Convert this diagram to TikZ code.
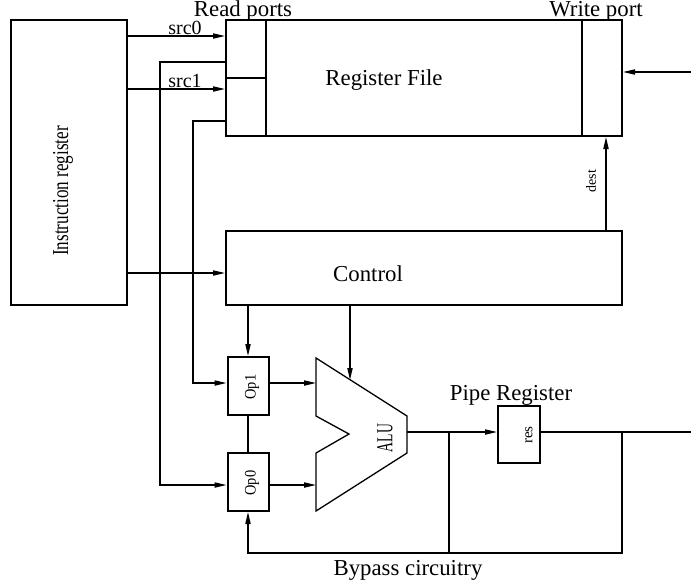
\documentclass[tikz,border=0pt]{standalone}
\usepackage{fontspec}
\setmainfont{Liberation Serif}
\newfontfamily\narrowfont[FakeStretch=0.75]{Liberation Serif}
\newfontfamily\opfont[FakeStretch=0.9]{Liberation Serif}
\newfontfamily\alufont[FakeStretch=0.6]{Liberation Serif}
\usetikzlibrary{arrows.meta}

\begin{document}
\begin{tikzpicture}[x=0.5pt, y=-0.5pt, line width=0.65pt,
  every node/.style={font=\fontsize{11.4}{13}\selectfont, inner sep=0pt},
  box/.style={draw, line width=1pt},
  arr/.style={-{Triangle[length=6pt,width=2.6pt]}},
  small/.style={font=\fontsize{10}{12}\selectfont}]
  \useasboundingbox (0,0) rectangle (691,586);
  \node[box, minimum width=58pt, minimum height=142.5pt] (ir) at (69,162.5) {};
  \node[box, minimum width=198pt, minimum height=58pt] (rf) at (424,78) {};
  \node[box, minimum width=198pt, minimum height=37pt] (ctl) at (424,268) {};
  \node[box, minimum width=20.5pt, minimum height=29pt] (op1) at (248,386) {};
  \node[box, minimum width=20.5pt, minimum height=29pt] (op0) at (248,482) {};
  \node[box, minimum width=21pt, minimum height=28.5pt] (res) at (519,434) {};
  \draw ([xshift=20.5pt]rf.north west) -- ([xshift=20.5pt]rf.south west);
  \draw ([xshift=-20.5pt]rf.north east) -- ([xshift=-20.5pt]rf.south east);
  \draw (rf.west) -- ([xshift=20.5pt]rf.west);
  \coordinate (a1) at (316,358);
  \coordinate (aluin) at (350,380);
  \coordinate (aluout) at (407,432);
  \coordinate (ja) at (449,432);
  \coordinate (jb) at (622,432);
  \coordinate (outend) at (691,432);
  \coordinate (bot) at (0,553);
  \coordinate (wp) at (691,72);
  \draw (a1) -- (407,416) -- (aluout) -- (407,453) -- (316,511) -- (316,453)
    -- (349,434) -- (316,416) -- cycle;
  \foreach \y/\lab in {36/src0,89/src1} {
    \draw[arr] (ir.east |- 0,\y) -- (rf.west |- 0,\y);
    \node[small] (l\lab) at (185,\y-8) {\lab};
  }
  \draw[arr] (rf.west |- 0,62) -| (160,485) -- (op0.west |- 0,485);
  \draw[arr] (rf.west |- 0,121) -| (193,383) -- (op1.west |- 0,383);
  \draw[arr] (ir.east |- 0,273) -- (ctl.west |- 0,273);
  \draw[arr] (ctl.south -| op1.north) -- (op1.north);
  \draw[arr] (ctl.south -| aluin) -- (aluin);
  \draw (op1.south) -- (op0.north);
  \draw[arr] (op1.east |- 0,383) -- (a1 |- 0,383);
  \draw[arr] (op0.east |- 0,485) -- (a1 |- 0,485);
  \draw[arr] (aluout) -- (res.west |- aluout);
  \draw (res.east |- aluout) -- (outend);
  \draw (ja) -- (ja |- bot);
  \draw[arr] (jb) -- (jb |- bot) -- (op0.south |- bot) -- (op0.south);
  \draw[arr] (wp) -- (rf.east |- wp);
  \draw[arr] (ctl.north -| 606,0) -- (rf.south -| 606,0);
  \node (lread) at (243,11) {Read ports};
  \node (lwrite) at (596,11) {Write port};
  \node (lrf) at (384,80) {Register File};
  \node (lctl) at (368,274) {Control};
  \node[rotate=90, font=\narrowfont\fontsize{11.4}{13}\selectfont] (lir) at (63,191) {Instruction register};
  \node[rotate=90, font=\opfont\fontsize{8}{10}\selectfont] (lop1) at (252,387) {Op1};
  \node[rotate=90, font=\opfont\fontsize{8}{10}\selectfont] (lop0) at (252,483) {Op0};
  \node[rotate=90, font=\alufont\fontsize{11.4}{13}\selectfont] (lalu) at (385,438) {ALU};
  \node[rotate=90, font=\fontsize{7.5}{9}\selectfont] (lres) at (529,435) {res};
  \node[rotate=90, font=\fontsize{7}{9}\selectfont] (ldest) at (591,181) {dest};
  \node (lpipe) at (511,395) {Pipe Register};
  \node (lbyp) at (408,570) {Bypass circuitry};
\end{tikzpicture}
\end{document}
